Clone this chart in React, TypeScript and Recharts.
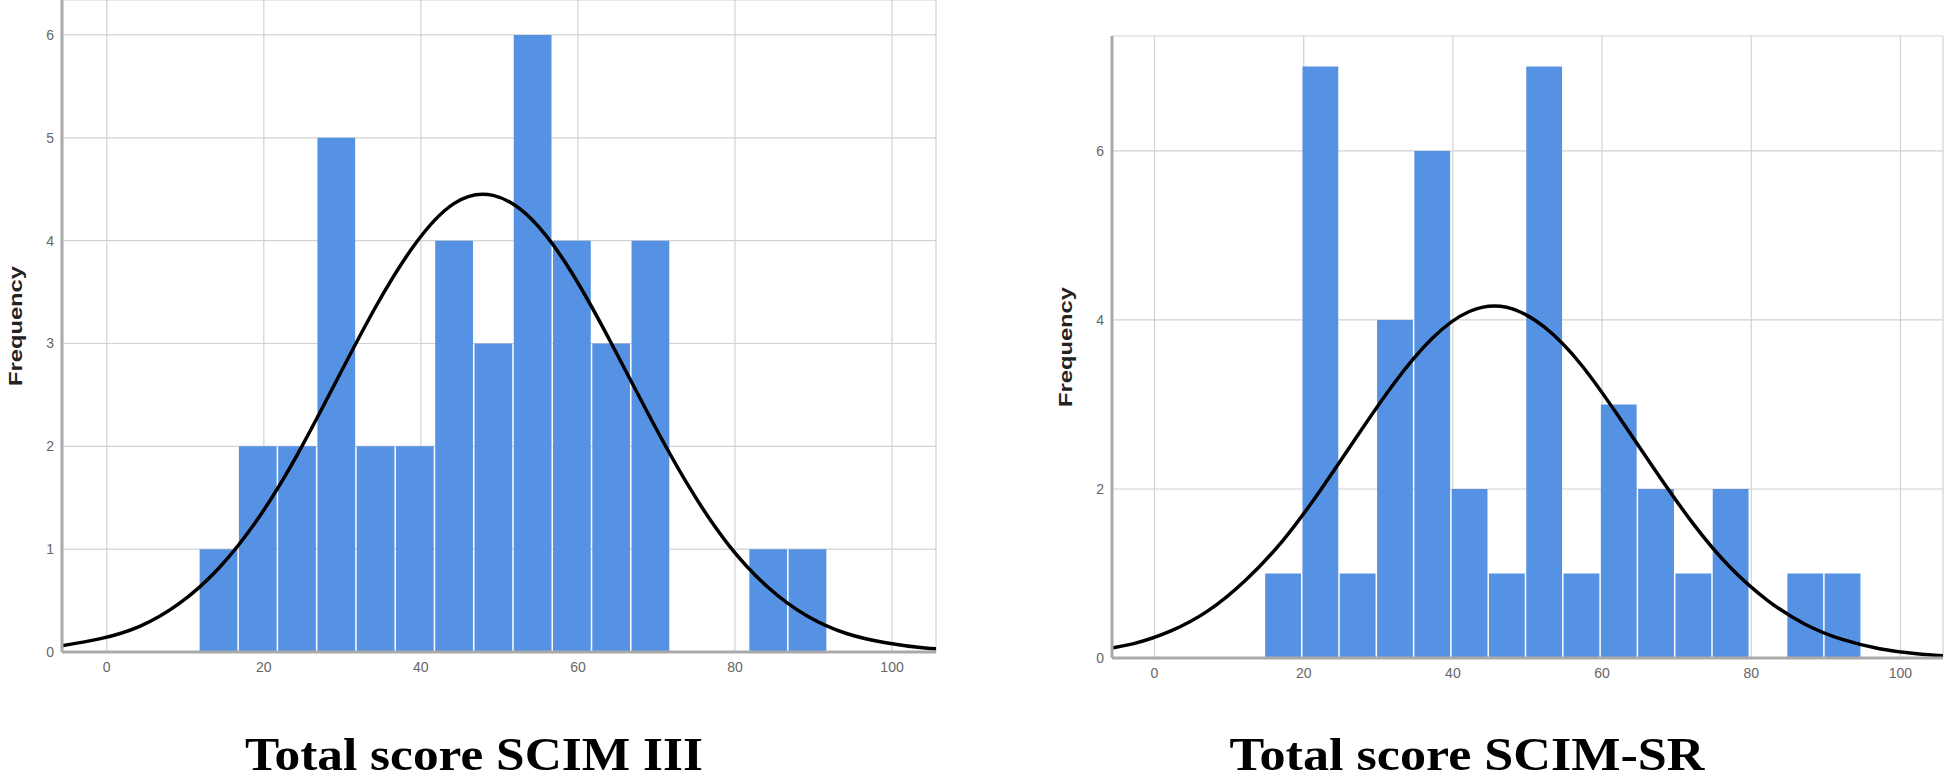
import React from 'react';
import { ComposedChart, Bar, Line, XAxis, YAxis, CartesianGrid } from 'recharts';

// SCIM III histogram (bins of width 5)
const SCIM3_BIN_CENTERS = [14.2, 19.2, 24.2, 29.2, 34.2, 39.2, 44.2, 49.2, 54.2, 59.2, 64.2, 69.2, 74.2, 79.2, 84.2, 89.2];
const SCIM3_COUNTS = [1, 2, 2, 5, 2, 2, 4, 3, 6, 4, 3, 4, 0, 0, 1, 1];
// normal curve
const SCIM3_CURVE_X = [-5.8, -0.8, 4.2, 9.2, 14.2, 19.2, 24.2, 29.2, 34.2, 39.2, 44.2, 49.2, 54.2, 59.2, 64.2, 69.2, 74.2, 79.2, 84.2, 89.2, 94.2, 99.2, 104.2, 109.2];
const SCIM3_CURVE_Y = [0.06, 0.13, 0.25, 0.47, 0.81, 1.29, 1.91, 2.63, 3.35, 3.96, 4.36, 4.44, 4.2, 3.69, 3.01, 2.28, 1.6, 1.04, 0.63, 0.35, 0.18, 0.09, 0.04, 0.02];
const SCIM3_Y_TICKS = [0, 1, 2, 3, 4, 5, 6];

// SCIM-SR histogram
const SCIMSR_BIN_CENTERS = [17.2, 22.2, 27.2, 32.2, 37.2, 42.2, 47.2, 52.2, 57.2, 62.2, 67.2, 72.2, 77.2, 82.2, 87.2, 92.2];
const SCIMSR_COUNTS = [1, 7, 1, 4, 6, 2, 1, 7, 1, 3, 2, 1, 2, 0, 1, 1];
const SCIMSR_CURVE_X = [-7.8, -2.8, 2.2, 7.2, 12.2, 17.2, 22.2, 27.2, 32.2, 37.2, 42.2, 47.2, 52.2, 57.2, 62.2, 67.2, 72.2, 77.2, 82.2, 87.2, 92.2, 97.2, 102.2, 107.2];
const SCIMSR_CURVE_Y = [0.09, 0.17, 0.32, 0.56, 0.92, 1.39, 1.98, 2.63, 3.26, 3.78, 4.1, 4.15, 3.92, 3.47, 2.86, 2.21, 1.59, 1.07, 0.68, 0.4, 0.22, 0.11, 0.05, 0.02];
const SCIMSR_Y_TICKS = [0, 2, 4, 6];

const X_TICKS = [0, 20, 40, 60, 80, 100];
const BIN_WIDTH = 5;

const buildRows = (binCenters: number[], counts: number[], curveX: number[], curveY: number[]) =>
  curveX.map((x, i) => {
    const b = binCenters.findIndex(c => Math.abs(c - x) < 0.01);
    const count = b >= 0 && counts[b] > 0 ? counts[b] : null;
    return { x, count, curve: curveY[i] };
  });

const BLUE = '#5692e3';
const GRID = '#d2d2d2';
const AXIS = '#a9a9a9';

const tickStyle = { fill: '#666', fontSize: 14, fontFamily: '"Liberation Sans", Arial, sans-serif' };

const FrequencyLabel = (props: any) => {
  const { viewBox } = props;
  const cx = viewBox.x + 15.5;
  const cy = viewBox.y + viewBox.height / 2;
  return (
    <text
      x={cx}
      y={cy}
      transform={`rotate(-90 ${cx} ${cy})`}
      textAnchor="middle"
      dominantBaseline="central"
      fontFamily='"Liberation Sans", Arial, sans-serif'
      fontWeight="bold"
      fontSize={18}
      fill="#222"
      textLength={120}
      lengthAdjust="spacingAndGlyphs"
    >
      Frequency
    </text>
  );
};

interface HistProps {
  rows: { x: number; count: number | null; curve: number }[];
  left: number;
  width: number;
  height: number;
  margin: { top: number; right: number; bottom: number; left: number };
  xDomain: [number, number];
  yDomain: [number, number];
  yTicks: number[];
}

const Histogram: React.FC<HistProps> = ({ rows, left, width, height, margin, xDomain, yDomain, yTicks }) => {
  const yAxisWidth = 62;
  const xAxisHeight = 30;
  const plotWidth = width - margin.left - margin.right - yAxisWidth;
  const binPx = (plotWidth / (xDomain[1] - xDomain[0])) * BIN_WIDTH;

  return (
    <div style={{ position: 'absolute', left, top: 0 }}>
      <ComposedChart width={width} height={height} data={rows} margin={margin}>
        <CartesianGrid stroke={GRID} strokeWidth={1.2} />
        <XAxis
          dataKey="x"
          type="number"
          domain={xDomain}
          ticks={X_TICKS}
          allowDataOverflow
          height={xAxisHeight}
          tickLine={false}
          tickMargin={4}
          axisLine={{ stroke: AXIS, strokeWidth: 3 }}
          tick={tickStyle}
        />
        <YAxis
          type="number"
          domain={yDomain}
          ticks={yTicks}
          allowDataOverflow
          width={yAxisWidth}
          tickLine={false}
          axisLine={{ stroke: AXIS, strokeWidth: 3 }}
          tick={tickStyle}
          label={<FrequencyLabel />}
        />
        <Bar dataKey="count" fill={BLUE} barSize={binPx - 1.5} isAnimationActive={false} />
        <Line
          dataKey="curve"
          type="natural"
          stroke="#000"
          strokeWidth={3.5}
          dot={false}
          activeDot={false}
          isAnimationActive={false}
        />
      </ComposedChart>
    </div>
  );
};

const titleStyle = {
  fontFamily: '"Liberation Serif", "Times New Roman", serif',
  fontWeight: 'bold' as const,
  fontSize: 46,
  fill: '#000',
};

const App: React.FC = () => {
  const leftRows = buildRows(SCIM3_BIN_CENTERS, SCIM3_COUNTS, SCIM3_CURVE_X, SCIM3_CURVE_Y);
  const rightRows = buildRows(SCIMSR_BIN_CENTERS, SCIMSR_COUNTS, SCIMSR_CURVE_X, SCIMSR_CURVE_Y);

  return (
    <div style={{ position: 'absolute', left: 0, top: 0, width: 1949, height: 781, background: '#fff', overflow: 'hidden' }}>
      <Histogram
        rows={leftRows}
        left={0}
        width={950}
        height={682}
        margin={{ top: 0, right: 14, bottom: 0, left: 0 }}
        xDomain={[-5.7, 105.6]}
        yDomain={[0, 6.34]}
        yTicks={SCIM3_Y_TICKS}
      />
      <Histogram
        rows={rightRows}
        left={1050}
        width={899}
        height={688}
        margin={{ top: 36, right: 6, bottom: 0, left: 0 }}
        xDomain={[-5.7, 105.7]}
        yDomain={[0, 7.36]}
        yTicks={SCIMSR_Y_TICKS}
      />
      <svg width={1949} height={781} style={{ position: 'absolute', left: 0, top: 0, pointerEvents: 'none' }}>
        <text x={474} y={770} textAnchor="middle" textLength={458} lengthAdjust="spacingAndGlyphs" style={titleStyle}>
          Total score SCIM III
        </text>
        <text x={1467} y={770} textAnchor="middle" textLength={475} lengthAdjust="spacingAndGlyphs" style={titleStyle}>
          Total score SCIM-SR
        </text>
      </svg>
    </div>
  );
};

export default App;
